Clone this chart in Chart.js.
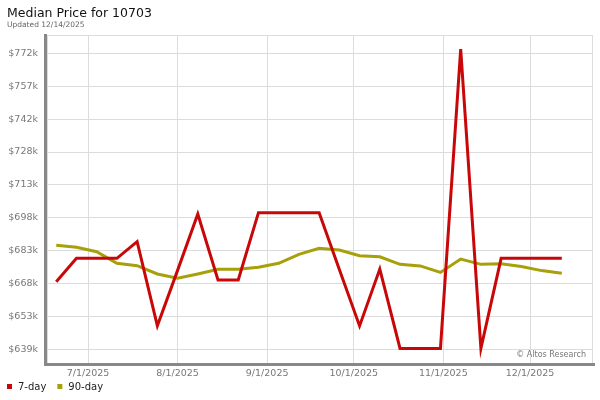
<!DOCTYPE html>
<html>
<head>
<meta charset="utf-8">
<script src="https://cdn.jsdelivr.net/npm/chart.js@4.4.1/dist/chart.umd.min.js"></script>
<style>
  html, body { margin: 0; padding: 0; background: #fff; }
  #wrap { width: 600px; height: 400px; }
</style>
</head>
<body>
<div id="wrap"><canvas id="chartMedianPrice"></canvas></div>
<script>
// Semanas (viernes) y precios medianos en miles de dólares
const weeks = [
  '2025-06-20', '2025-06-27', '2025-07-04', '2025-07-11', '2025-07-18', '2025-07-25',
  '2025-08-01', '2025-08-08', '2025-08-15', '2025-08-22', '2025-08-29', '2025-09-05',
  '2025-09-12', '2025-09-19', '2025-09-26', '2025-10-03', '2025-10-10', '2025-10-17',
  '2025-10-24', '2025-10-31', '2025-11-07', '2025-11-14', '2025-11-21', '2025-11-28',
  '2025-12-05', '2025-12-12'
];
const sevenDay = [
  669.3, 679.8, 679.8, 679.8, 687.3, 649.5, 674.4, 699.7, 670.1, 670.1, 700.3, 700.3,
  700.3, 700.3, 674.8, 649.5, 675.0, 639.4, 639.4, 639.4, 773.7, 639.4, 679.8, 679.8,
  679.8, 679.8
];
const ninetyDay = [
  685.7, 684.8, 682.8, 677.6, 676.5, 672.8, 670.9, 672.8, 674.9, 674.9, 675.8, 677.6,
  681.6, 684.3, 683.5, 681.0, 680.5, 677.1, 676.4, 673.5, 679.5, 677.1, 677.4, 676.1,
  674.3, 673.1
];

// Ejes
const yTicks = [639, 653.75, 668.5, 683.25, 698, 712.75, 727.5, 742.25, 757, 771.75];
const yTickLabels = ['$639k', '$653k', '$668k', '$683k', '$698k', '$713k', '$728k', '$742k', '$757k', '$772k'];
const xTickDates = ['2025-07-01', '2025-08-01', '2025-09-01', '2025-10-01', '2025-11-01', '2025-12-01'];
const xTickLabels = ['7/1/2025', '8/1/2025', '9/1/2025', '10/1/2025', '11/1/2025', '12/1/2025'];

const FONT = "'DejaVu Sans', Verdana, sans-serif";
const RED = '#c80808';
const OLIVE = '#a8a00a';

// Días desde el 1 de julio
const origin = Date.UTC(2025, 6, 1);
function dayOf(iso) {
  const p = iso.split('-').map(Number);
  return (Date.UTC(p[0], p[1] - 1, p[2]) - origin) / 86400000;
}

const toPoints = vals => vals.map((v, i) => ({ x: dayOf(weeks[i]), y: v }));
const xTickDays = xTickDates.map(dayOf);

// Título, leyenda, marco y sombra
const decor = {
  id: 'decor',
  beforeDatasetsDraw(chart) {
    const { ctx, chartArea: a } = chart;
    ctx.save();
    ctx.strokeStyle = '#dcdcdc';
    ctx.lineWidth = 1;
    ctx.strokeRect(a.left + 0.5, a.top + 0.5, a.right - a.left - 1, a.bottom - a.top);
    ctx.restore();
  },
  afterDraw(chart) {
    const { ctx, chartArea: a } = chart;
    ctx.save();
    // sombra izquierda e inferior
    ctx.fillStyle = '#888888';
    ctx.fillRect(a.left - 3, a.top - 1, 3, a.bottom - a.top + 4);
    ctx.fillRect(a.left - 3, a.bottom, a.right - a.left + 5, 3);

    ctx.textBaseline = 'alphabetic';
    ctx.textAlign = 'left';
    ctx.fillStyle = '#111';
    ctx.font = '12.5px ' + FONT;
    ctx.fillText('Median Price for 10703', 7, 17);
    ctx.fillStyle = '#666';
    ctx.font = '7.5px ' + FONT;
    ctx.fillText('Updated 12/14/2025', 7, 27);

    // copyright
    ctx.textAlign = 'right';
    ctx.fillStyle = '#777';
    ctx.font = '8px ' + FONT;
    ctx.fillText('\u00a9 Altos Research', a.right - 7, a.bottom - 6);

    // leyenda
    ctx.textAlign = 'left';
    ctx.textBaseline = 'middle';
    ctx.font = '10px ' + FONT;
    let x = 7;
    chart.data.datasets.forEach(ds => {
      ctx.fillStyle = ds.borderColor;
      ctx.fillRect(x, 384, 5, 5);
      ctx.fillStyle = '#222';
      ctx.fillText(ds.label, x + 11, 387);
      x += 11 + ctx.measureText(ds.label).width + 11;
    });
    ctx.restore();
  }
};

const canvas = document.getElementById('chartMedianPrice');
new Chart(canvas.getContext('2d'), {
  type: 'line',
  data: {
    datasets: [
      {
        label: '7-day',
        data: toPoints(sevenDay),
        borderColor: RED,
        borderWidth: 3,
        pointRadius: 0,
        tension: 0
      },
      {
        label: '90-day',
        data: toPoints(ninetyDay),
        borderColor: OLIVE,
        borderWidth: 3,
        pointRadius: 0,
        tension: 0
      }
    ]
  },
  options: {
    responsive: true,
    maintainAspectRatio: false,
    animation: false,
    layout: { padding: { top: 35, right: 7, bottom: 0, left: 0 } },
    plugins: {
      legend: { display: false },
      title: { display: false },
      tooltip: { enabled: false }
    },
    scales: {
      x: {
        type: 'linear',
        min: -14.2,
        max: 174.8,
        afterBuildTicks: axis => { axis.ticks = xTickDays.map(v => ({ value: v })); },
        afterFit: axis => { axis.height = 37; },
        grid: { color: '#dcdcdc', drawTicks: false },
        border: { display: false },
        ticks: {
          autoSkip: false,
          maxRotation: 0,
          padding: 5,
          color: '#777',
          font: { family: FONT, size: 9.5 },
          callback: (v, i) => xTickLabels[i]
        }
      },
      y: {
        min: 632.85,
        max: 780,
        afterBuildTicks: axis => { axis.ticks = yTicks.map(v => ({ value: v })); },
        afterFit: axis => { axis.width = 47; },
        grid: { color: '#dcdcdc', drawTicks: false },
        border: { display: false },
        ticks: {
          padding: 9,
          color: '#777',
          font: { family: FONT, size: 9.5 },
          callback: (v, i) => yTickLabels[i]
        }
      }
    }
  },
  plugins: [decor]
});
</script>
</body>
</html>
